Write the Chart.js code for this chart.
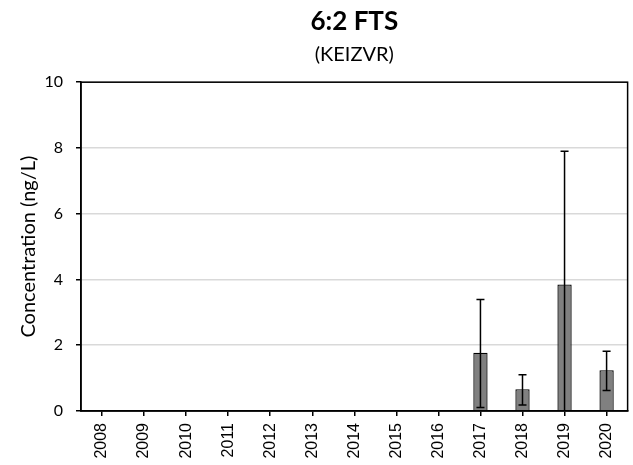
<!DOCTYPE html>
<html><head><meta charset="utf-8">
<script src="https://cdn.jsdelivr.net/npm/chart.js@4"></script>
<style>html,body{margin:0;padding:0;background:#fff}#wrap{width:633px;height:465px}</style>
</head><body><div id="wrap"><canvas id="c" width="633" height="465"></canvas></div>
<script>
const years = ['2008','2009','2010','2011','2012','2013','2014','2015','2016','2017','2018','2019','2020'];
const means = [null,null,null,null,null,null,null,null,null,1.77,0.66,3.85,1.24];
const upper = [null,null,null,null,null,null,null,null,null,3.39,1.10,7.90,1.82];
const lower = [null,null,null,null,null,null,null,null,null,0.11,0.18,-0.2,0.62];
const yTicks = [0,2,4,6,8,10];

const errPlugin = {
  id:'err',
  afterDatasetsDraw(chart){
    const ctx=chart.ctx, x=chart.scales.x, y=chart.scales.y, a=chart.chartArea;
    ctx.save();
    ctx.beginPath(); ctx.rect(a.left,a.top,a.right-a.left,a.bottom-a.top); ctx.clip();
    ctx.strokeStyle='#000'; ctx.lineWidth=1.5;
    for(let i=0;i<years.length;i++){
      if(means[i]==null) continue;
      const px=x.getPixelForValue(i);
      const yu=y.getPixelForValue(upper[i]), yl=y.getPixelForValue(lower[i]);
      ctx.beginPath(); ctx.moveTo(px,yu); ctx.lineTo(px,yl); ctx.stroke();
      ctx.beginPath(); ctx.moveTo(px-4,yu); ctx.lineTo(px+4,yu); ctx.stroke();
      ctx.beginPath(); ctx.moveTo(px-4,yl); ctx.lineTo(px+4,yl); ctx.stroke();
    }
    ctx.restore();
    ctx.save(); ctx.strokeStyle='#000'; ctx.lineWidth=1.5;
    ctx.strokeRect(a.left,a.top,a.right-a.left,a.bottom-a.top);
    ctx.restore();
  }
};

new Chart(document.getElementById('c'),{
  type:'bar',
  data:{labels:years,datasets:[{data:means,backgroundColor:'#808080',borderColor:'#000',borderWidth:1.3,barPercentage:0.34,categoryPercentage:1}]},
  options:{
    responsive:false,animation:false,
    layout:{padding:{left:0,right:5,top:0,bottom:0}},
    plugins:{
      legend:{display:false},tooltip:{enabled:false},
      title:{display:true,fullSize:false,text:'6:2 FTS',color:'#000',font:{family:'Lato',size:26,weight:'bold'},padding:{top:6,bottom:0}},
      subtitle:{display:true,fullSize:false,text:'(KEIZVR)',color:'#000',font:{family:'Lato',size:20},padding:{top:5,bottom:16}}
    },
    scales:{
      x:{offset:true,
        afterFit(s){s.height=54;},
        grid:{display:true,offset:false,drawOnChartArea:false,drawTicks:true,tickLength:5,color:'#000',lineWidth:1.5},
        border:{display:true,color:'#000',width:1.5},
        ticks:{color:'#000',font:{family:'Arial, "Liberation Sans", sans-serif',size:16},minRotation:90,maxRotation:90,padding:7}},
      y:{min:0,max:10,
        afterFit(s){s.width=81;},
        afterBuildTicks(s){s.ticks=yTicks.map(v=>({value:v}));},
        grid:{color:'#d9d9d9',lineWidth:1.5,tickColor:'#000',tickLength:5},
        border:{display:true,color:'#000',width:1.5},
        ticks:{color:'#000',font:{family:'Lato',size:16},padding:13},
        title:{display:true,text:'Concentration (ng/L)',color:'#000',font:{family:'Lato',size:20},padding:{top:17,bottom:0}}}
    }
  },
  plugins:[errPlugin]
});
</script></body></html>
